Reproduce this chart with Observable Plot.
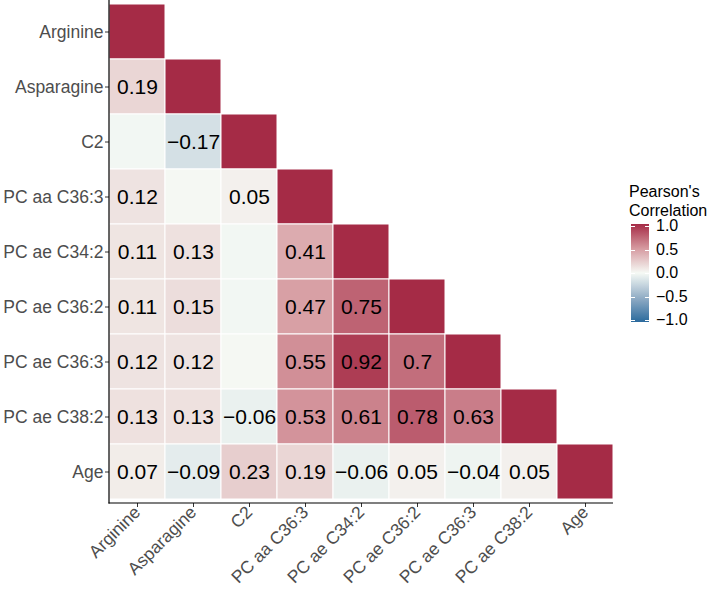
<!DOCTYPE html>
<html>
<head>
<meta charset="utf-8">
<script src="https://cdn.jsdelivr.net/npm/d3@7"></script>
<script src="https://cdn.jsdelivr.net/npm/@observablehq/plot@0.6"></script>
<style>
  html, body { margin: 0; padding: 0; background: #fff; }
  #wrap { position: relative; width: 709px; height: 592px; font-family: "Liberation Sans", Arial, Helvetica, sans-serif; }
  #legend { position: absolute; left: 629px; top: 183px; color: #000; }
  #legend .title { font-size: 16px; line-height: 18.5px; }
  #legend .bar { position: absolute; left: 2px; top: 41px; width: 18px; height: 98px; }
  #legend .lab { position: absolute; left: 27px; font-size: 16px; transform: translateY(-50%); white-space: nowrap; }
  #legend .tk { position: absolute; width: 4px; height: 1px; background: #fff; }
</style>
</head>
<body>
<div id="wrap"></div>
<script>
// Variables (row/column order)
const vars = ["Arginine", "Asparagine", "C2", "PC aa C36:3", "PC ae C34:2", "PC ae C36:2", "PC ae C36:3", "PC ae C38:2", "Age"];

// Lower-triangle Pearson correlations, row by row (including diagonal = 1)
const corrArginine   = [1];
const corrAsparagine = [0.19, 1];
const corrC2         = [-0.02, -0.17, 1];
const corrPCaaC363   = [0.12, 0.01, 0.05, 1];
const corrPCaeC342   = [0.11, 0.13, -0.02, 0.41, 1];
const corrPCaeC362   = [0.11, 0.15, -0.02, 0.47, 0.75, 1];
const corrPCaeC363   = [0.12, 0.12, 0.01, 0.55, 0.92, 0.70, 1];
const corrPCaeC382   = [0.13, 0.13, -0.06, 0.53, 0.61, 0.78, 0.63, 1];
const corrAge        = [0.07, -0.09, 0.23, 0.19, -0.06, 0.05, -0.04, 0.05, 1];
const corrRows = [corrArginine, corrAsparagine, corrC2, corrPCaaC363, corrPCaeC342, corrPCaeC362, corrPCaeC363, corrPCaeC382, corrAge];

// Cells shown without a text label (row, column)
const unlabeled = [
  ["C2", "Arginine"],
  ["PC aa C36:3", "Asparagine"],
  ["PC ae C34:2", "C2"],
  ["PC ae C36:2", "C2"],
  ["PC ae C36:3", "C2"]
];

// Legend ticks
const legendTicks = [1.0, 0.5, 0.0, -0.5, -1.0];
const legendTitle = ["Pearson's", "Correlation"];

// Colour scale stops
const colorDomain = [-1, -0.5, 0, 0.5, 1];
const colorRange = ["#2b6a9d", "#93aec6", "#f6faf5", "#d69aa0", "#a52b46"];

const cells = [];
corrRows.forEach((row, i) => {
  row.forEach((r, j) => {
    const rowName = vars[i], colName = vars[j];
    const hide = i === j || unlabeled.some(([a, b]) => a === rowName && b === colName);
    cells.push({row: rowName, col: colName, r, label: hide ? null : String(+r.toFixed(2)).replace("-", "\u2212")});
  });
});

const colorOpts = {type: "linear", domain: colorDomain, range: colorRange, interpolate: "rgb"};

const plot = Plot.plot({
  width: 709,
  height: 592,
  marginLeft: 109,
  marginRight: 96,
  marginTop: 0,
  marginBottom: 89,
  style: {fontFamily: "'Liberation Sans', Arial, Helvetica, sans-serif", background: "white"},
  x: {domain: vars, padding: 0, label: null},
  y: {domain: vars, padding: 0, label: null},
  color: colorOpts,
  marks: [
    Plot.cell(cells, {x: "col", y: "row", fill: "r", stroke: "white", strokeWidth: 1}),
    Plot.text(cells.filter(d => d.label), {x: "col", y: "row", text: "label", fontSize: 21, fill: "black"}),
    Plot.axisX({tickRotate: -45, fontSize: 17.5, tickSize: 4, tickPadding: 2, fill: "#4d4d4d", stroke: "#333", label: null}),
    Plot.axisY({fontSize: 17.5, tickSize: 4, tickPadding: 2, fill: "#4d4d4d", stroke: "#333", label: null})
  ]
});

document.getElementById("wrap").appendChild(plot);

// Axis lines along left and bottom of panel
const xr = plot.scale("x").range, yr = plot.scale("y").range;
const svg = d3.select(plot.tagName.toLowerCase() === "svg" ? plot : plot.querySelector("svg"));
const x0 = Math.min(...xr), x1 = Math.max(...xr), y0 = Math.min(...yr), y1 = Math.max(...yr);
svg.append("line").attr("x1", x0).attr("x2", x0).attr("y1", y0).attr("y2", y1 + 0.5).attr("stroke", "black").attr("stroke-width", 1.2);
svg.append("line").attr("x1", x0 - 0.5).attr("x2", x1).attr("y1", y1).attr("y2", y1).attr("stroke", "black").attr("stroke-width", 1.2);

// Legend
const cs = Plot.scale({color: colorOpts});
const leg = document.createElement("div");
leg.id = "legend";
leg.innerHTML = `<div class="title">${legendTitle.join("<br>")}</div>`;
const bar = document.createElement("div");
bar.className = "bar";
const stops = d3.range(0, 41).map(k => {
  const v = 1 - 2 * k / 40;
  return `${cs.apply(v)} ${(k / 40 * 100).toFixed(1)}%`;
});
bar.style.background = `linear-gradient(to bottom, ${stops.join(",")})`;
leg.appendChild(bar);
const barTop = 41, barH = 98, pad = 2;
legendTicks.forEach(t => {
  const y = barTop + pad + (1 - t) / 2 * (barH - 2 * pad);
  const lab = document.createElement("div");
  lab.className = "lab";
  lab.style.top = y + "px";
  lab.textContent = t.toFixed(1).replace("-", "\u2212");
  leg.appendChild(lab);
  [2, 16].forEach(xx => {
    const tk = document.createElement("div");
    tk.className = "tk";
    tk.style.left = xx + "px";
    tk.style.top = y + "px";
    leg.appendChild(tk);
  });
});
document.getElementById("wrap").appendChild(leg);
</script>
</body>
</html>
